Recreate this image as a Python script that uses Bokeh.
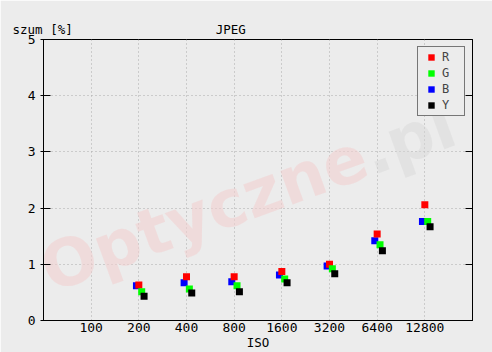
import math
import numpy as np
from bokeh.plotting import figure
from bokeh.models import (Range1d, FixedTicker, LinearAxis, Label, Legend, LegendItem, Title)
from bokeh.embed import file_html
from bokeh.resources import INLINE

# ---- data ----
iso_labels = ["100", "200", "400", "800", "1600", "3200", "6400", "12800"]
data_iso = ["200", "400", "800", "1600", "3200", "6400", "12800"]
noise_R = [0.63, 0.78, 0.78, 0.87, 1.00, 1.54, 2.06]
noise_G = [0.51, 0.56, 0.62, 0.74, 0.92, 1.35, 1.76]
noise_B = [0.62, 0.67, 0.69, 0.81, 0.97, 1.42, 1.76]
noise_Y = [0.43, 0.49, 0.51, 0.67, 0.83, 1.24, 1.67]
y_ticks = [0, 1, 2, 3, 4, 5]
y_title = "szum [%]"
chart_title = "JPEG"
x_title = "ISO"

BG = "#ececec"
FONT = "DejaVu Sans Mono"

x_pos = {lab: i + 1 for i, lab in enumerate(iso_labels)}
base_x = np.array([x_pos[l] for l in data_iso], dtype=float)

p = figure(width=492, height=352, output_backend="svg", toolbar_location=None,
           x_range=Range1d(0, len(iso_labels) + 1), y_range=Range1d(0, 5),
           min_border_left=43, min_border_right=20, min_border_top=39, min_border_bottom=32)
p.background_fill_color = BG
p.border_fill_color = BG
p.outline_line_color = "black"
p.outline_line_width = 1

# header: y-axis title on the left, chart title further right (monospace, NBSP padded)
NBSP = "\u00a0"
header = Title(text=y_title + NBSP * 19 + chart_title, align="left", offset=-31, standoff=5,
               text_font=FONT, text_font_size="12.5px", text_font_style="normal",
               text_color="black")
p.add_layout(header, "above")

# axes
p.xaxis.ticker = FixedTicker(ticks=list(x_pos.values()))
p.xaxis.major_label_overrides = {v: k for k, v in x_pos.items()}
p.xaxis.major_tick_in = 0
p.xaxis.major_tick_out = 0
p.xaxis.minor_tick_in = 0
p.xaxis.minor_tick_out = 0
p.xaxis.major_label_standoff = 2
p.xaxis.axis_label = x_title
p.xaxis.axis_label_standoff = 0
p.xaxis.axis_label_text_font = FONT
p.xaxis.axis_label_text_font_size = "12.5px"
p.xaxis.axis_label_text_font_style = "normal"
p.xaxis.axis_label_text_color = "black"
p.yaxis.ticker = FixedTicker(ticks=y_ticks)
p.yaxis.major_tick_in = 7
p.yaxis.major_tick_out = 3
p.yaxis.minor_tick_in = 0
p.yaxis.minor_tick_out = 0
p.yaxis.major_label_standoff = 5
for ax in [p.xaxis[0], p.yaxis[0]]:
    ax.axis_line_color = "black"
    ax.major_tick_line_color = "black"
    ax.major_label_text_font = FONT
    ax.major_label_text_font_size = "13px"
    ax.major_label_text_color = "black"

right = LinearAxis(ticker=FixedTicker(ticks=y_ticks), major_tick_in=7, major_tick_out=0,
                   minor_tick_in=0, minor_tick_out=0,
                   major_label_overrides={t: "" for t in y_ticks},
                   axis_line_color="black", major_tick_line_color="black")
p.add_layout(right, "right")

# grid
p.xgrid.ticker = FixedTicker(ticks=list(x_pos.values()))
p.ygrid.ticker = FixedTicker(ticks=y_ticks)
for g in [p.xgrid[0], p.ygrid[0]]:
    g.grid_line_color = "#aaaaaa"
    g.grid_line_dash = "1 3"
    g.grid_line_width = 1

# watermark (pink "Optyczne" + grey ".pl" along one rotated baseline)
wm_size = 65
wm_angle = 0.35
wm_x0, wm_y0 = 0, 49
first_w = 5.261 * wm_size  # advance of "Optyczne" in DejaVu Sans Bold
p.add_layout(Label(x=wm_x0, y=wm_y0, x_units="screen", y_units="screen", text="Optyczne",
                   angle=wm_angle, text_font="DejaVu Sans", text_font_style="bold",
                   text_font_size=f"{wm_size}px", text_color="#f2d0d0", text_alpha=0.6,
                   text_baseline="alphabetic", level="underlay"))
p.add_layout(Label(x=wm_x0 + first_w * math.cos(wm_angle), y=wm_y0 + first_w * math.sin(wm_angle),
                   x_units="screen", y_units="screen", text=".pl",
                   angle=wm_angle, text_font="DejaVu Sans", text_font_style="bold",
                   text_font_size=f"{wm_size}px", text_color="#d6d6d6", text_alpha=0.45,
                   text_baseline="alphabetic", level="underlay"))

# data
size = 7
rB = p.scatter(base_x - 0.05, noise_B, marker="square", size=size, color="#0000ff", line_color=None)
rR = p.scatter(base_x + 0.0, noise_R, marker="square", size=size, color="#ff0000", line_color=None)
rG = p.scatter(base_x + 0.06, noise_G, marker="square", size=size, color="#00ff00", line_color=None)
rY = p.scatter(base_x + 0.11, noise_Y, marker="square", size=size, color="#000000", line_color=None)

legend = Legend(items=[LegendItem(label="R", renderers=[rR]),
                       LegendItem(label="G", renderers=[rG]),
                       LegendItem(label="B", renderers=[rB]),
                       LegendItem(label="Y", renderers=[rY])],
                location="top_right", margin=7, padding=2, spacing=0,
                glyph_width=22, glyph_height=16, label_height=16, label_width=20,
                label_standoff=0, label_text_font=FONT, label_text_font_size="12px",
                border_line_color="black", border_line_width=1,
                background_fill_color=BG, background_fill_alpha=1.0)
p.add_layout(legend, "center")

open("out.html", "w").write(file_html(p, INLINE))
